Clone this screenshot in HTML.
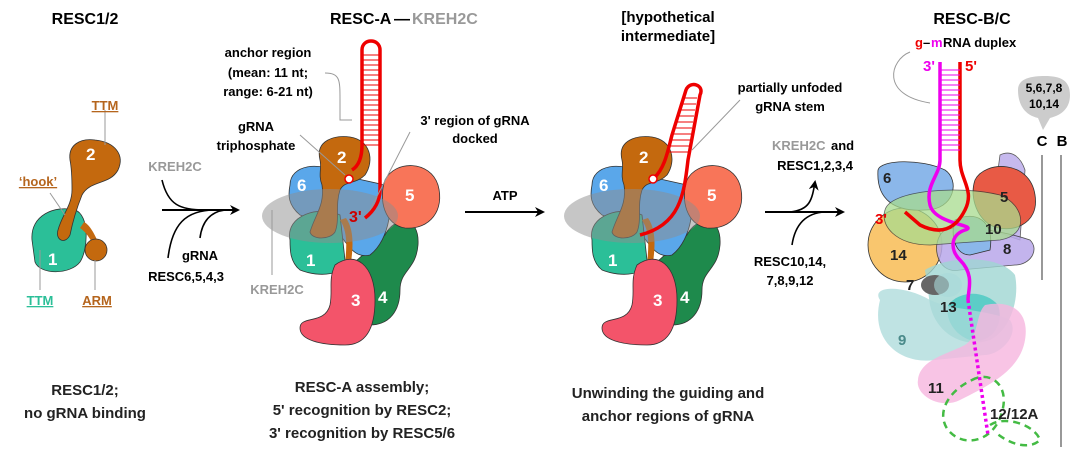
<!DOCTYPE html>
<html><head><meta charset="utf-8"><style>
html,body{margin:0;padding:0;background:#fff}
svg{display:block}
text{font-family:"Liberation Sans",Arial,sans-serif;font-weight:bold}
.o{stroke:#333;stroke-width:0.8}
</style></head><body>
<svg width="1080" height="461" viewBox="0 0 1080 461" xmlns="http://www.w3.org/2000/svg">
<defs>
<marker id="ah" markerWidth="10" markerHeight="10" refX="8" refY="5" orient="auto" markerUnits="userSpaceOnUse"><path d="M0,0 L10,5 L0,10 L3,5 z" fill="#000"/></marker>
<g id="rescA">
  <path class="o" d="M385,235 C395,215 420,215 418,245 C416,270 400,270 400,290 C400,310 390,325 370,325 C345,325 330,300 335,280 Z" fill="#1e8a4c"/>
  <path class="o" d="M290,185 C290,165 320,160 340,175 L385,185 C395,200 390,240 370,255 C350,260 345,235 330,225 L300,215 C288,205 288,195 290,185 Z" fill="#5aa7ea"/>
  <path class="o" d="M385,180 C395,160 430,160 438,185 C445,210 430,230 405,228 C385,225 378,200 385,180 Z" fill="#f87559"/>
  <path class="o" d="M290,240 C285,215 320,205 340,215 L345,260 C345,275 320,278 300,270 C290,262 290,250 290,240 Z" fill="#2bbf98"/>
  <path d="M340,220 C350,235 345,255 345,270 L350,270 C352,255 356,232 346,218 Z" fill="#c4690e"/>
  <path class="o" d="M320,160 C315,140 335,135 350,137 C370,140 375,160 365,175 C355,185 345,180 340,190 C335,205 340,220 335,232 C330,240 312,240 310,232 C315,215 325,205 322,185 C318,175 322,168 320,160 Z" fill="#c4690e"/>
  <ellipse cx="330" cy="216" rx="68" ry="27" fill="#8e8e8e" opacity="0.5"/>
  <path class="o" d="M335,265 C355,250 375,265 375,300 C375,330 365,345 345,345 C320,345 300,340 300,328 C300,315 325,325 330,305 C333,290 328,280 335,265 Z" fill="#f3546a"/>
  <text x="297" y="191" fill="#fff" font-size="17">6</text>
  <text x="337" y="163" fill="#fff" font-size="17">2</text>
  <text x="405" y="201" fill="#fff" font-size="17">5</text>
  <text x="306" y="266" fill="#fff" font-size="17">1</text>
  <text x="351" y="306" fill="#fff" font-size="17">3</text>
  <text x="378" y="303" fill="#fff" font-size="17">4</text>
</g>
</defs>

<!-- Panel 1 -->
<text x="85" y="24" text-anchor="middle" font-size="16">RESC1/2</text>
<path class="o" d="M32,240 C30,215 55,205 75,210 C90,215 88,250 80,262 C70,275 40,275 35,262 Z" fill="#2bbf98"/>
<path d="M80,228 C90,235 92,245 95,245 L98,242 C95,235 90,225 84,222 Z" fill="#c4690e"/>
<circle class="o" cx="96" cy="250" r="11" fill="#c4690e"/>
<path class="o" d="M70,160 C68,145 80,138 95,140 C115,142 125,155 118,170 C110,185 90,180 82,195 C76,210 72,225 70,235 C65,245 55,240 58,230 C62,215 72,205 72,190 C72,180 72,170 70,160 Z" fill="#c4690e"/>
<text x="86" y="160" fill="#fff" font-size="17">2</text>
<text x="48" y="265" fill="#fff" font-size="17">1</text>
<g stroke="#999" stroke-width="1" fill="none"><path d="M105,110 V145"/><path d="M50,193 L65,215"/><path d="M40,250 V290"/><path d="M95,260 V290"/></g>
<text x="105" y="110" text-anchor="middle" font-size="13" fill="#b5651d" text-decoration="underline">TTM</text>
<text x="38" y="186" text-anchor="middle" font-size="13" fill="#b5651d" text-decoration="underline">‘hook’</text>
<text x="40" y="305" text-anchor="middle" font-size="13" fill="#2bbf98" text-decoration="underline">TTM</text>
<text x="97" y="305" text-anchor="middle" font-size="13" fill="#b5651d" text-decoration="underline">ARM</text>
<text x="85" y="395" text-anchor="middle" font-size="15" fill="#222">RESC1/2;</text>
<text x="85" y="418" text-anchor="middle" font-size="15" fill="#222">no gRNA binding</text>

<!-- Arrow 1 -->
<path d="M162,210 H238" stroke="#000" stroke-width="2" marker-end="url(#ah)" fill="none"/>
<path d="M162,180 C168,205 180,210 205,210" stroke="#000" stroke-width="1.6" fill="none"/>
<path d="M168,258 C172,225 185,210 215,210" stroke="#000" stroke-width="1.6" fill="none"/>
<path d="M200,238 C202,222 210,212 225,210" stroke="#000" stroke-width="1.6" fill="none"/>
<text x="175" y="171" text-anchor="middle" font-size="13" fill="#999">KREH2C</text>
<text x="200" y="260" text-anchor="middle" font-size="13">gRNA</text>
<text x="186" y="281" text-anchor="middle" font-size="13">RESC6,5,4,3</text>

<!-- Panel 2 -->
<text x="330" y="24" font-size="16">RESC-A</text>
<text x="394" y="24" font-size="16">—</text>
<text x="412" y="24" font-size="16" fill="#999">KREH2C</text>
<use href="#rescA"/>
<path d="M352,170 C360,165 362,155 362,145 V50 C362,38 380,38 380,50 V190 C380,200 375,210 365,218" stroke="#e00" stroke-width="3.5" fill="none"/>
<g stroke="#e00" stroke-width="1">
<path d="M362,55H380M362,60H380M362,65H380M362,70H380M362,75H380M362,80H380M362,85H380M362,90H380M362,95H380M362,100H380M362,105H380M362,110H380M362,115H380M362,120H380M362,125H380M362,130H380M362,135H380M362,140H380M362,145H380"/></g>
<circle cx="349" cy="179" r="4" fill="#fff" stroke="#e00" stroke-width="1.5"/>
<text x="349" y="222" font-size="16" fill="#c00">3'</text>
<g stroke="#999" stroke-width="1" fill="none"><path d="M325,73 C340,73 340,80 340,100 V120 H352"/><path d="M300,135 L345,175"/><path d="M410,132 L370,210"/><path d="M272,210 V275"/></g>
<text x="268" y="57" text-anchor="middle" font-size="13">anchor region</text>
<text x="268" y="77" text-anchor="middle" font-size="13">(mean: 11 nt;</text>
<text x="268" y="96" text-anchor="middle" font-size="13">range: 6-21 nt)</text>
<text x="256" y="131" text-anchor="middle" font-size="13">gRNA</text>
<text x="256" y="150" text-anchor="middle" font-size="13">triphosphate</text>
<text x="475" y="125" text-anchor="middle" font-size="13">3' region of gRNA</text>
<text x="475" y="143" text-anchor="middle" font-size="13">docked</text>
<text x="277" y="294" text-anchor="middle" font-size="13" fill="#999">KREH2C</text>
<text x="362" y="392" text-anchor="middle" font-size="15" fill="#222">RESC-A assembly;</text>
<text x="362" y="415" text-anchor="middle" font-size="15" fill="#222">5' recognition by RESC2;</text>
<text x="362" y="438" text-anchor="middle" font-size="15" fill="#222">3' recognition by RESC5/6</text>

<!-- ATP arrow -->
<path d="M465,212 H543" stroke="#000" stroke-width="2" marker-end="url(#ah)" fill="none"/>
<text x="505" y="200" text-anchor="middle" font-size="13">ATP</text>

<!-- Panel 3 -->
<text x="668" y="22" text-anchor="middle" font-size="15">[hypothetical</text>
<text x="668" y="41" text-anchor="middle" font-size="15">intermediate]</text>
<use href="#rescA" transform="translate(302,0)"/>
<path d="M654,178 C665,168 668,150 672,135 L686,90 C690,80 705,85 700,95 L688,160 C684,195 680,225 640,235" stroke="#e00" stroke-width="3.5" fill="none"/>
<g stroke="#e00" stroke-width="1"><path d="M683,98H697M681,104H696M679,110H695M677,116H694M675,122H693M673,128H692M671,134H691M670,140H690M669,146H689M668,152H688"/></g>
<circle cx="653" cy="179" r="4" fill="#fff" stroke="#e00" stroke-width="1.5"/>
<path d="M740,100 L692,150" stroke="#999" stroke-width="1"/>
<text x="790" y="92" text-anchor="middle" font-size="13">partially unfoded</text>
<text x="790" y="111" text-anchor="middle" font-size="13">gRNA stem</text>
<text x="668" y="398" text-anchor="middle" font-size="15" fill="#222">Unwinding the guiding and</text>
<text x="668" y="421" text-anchor="middle" font-size="15" fill="#222">anchor regions of gRNA</text>

<!-- Arrow 3 -->
<path d="M765,212 H843" stroke="#000" stroke-width="2" marker-end="url(#ah)" fill="none"/>
<path d="M790,212 C810,210 812,200 815,182" stroke="#000" stroke-width="1.6" fill="none" marker-end="url(#ah)"/>
<path d="M792,245 C795,225 805,213 825,212" stroke="#000" stroke-width="1.6" fill="none"/>
<text x="772" y="150" font-size="13" fill="#999">KREH2C</text>
<text x="831" y="150" font-size="13">and</text>
<text x="815" y="170" text-anchor="middle" font-size="13">RESC1,2,3,4</text>
<text x="790" y="266" text-anchor="middle" font-size="13">RESC10,14,</text>
<text x="790" y="285" text-anchor="middle" font-size="13">7,8,9,12</text>

<!-- Panel 4 -->
<text x="972" y="24" text-anchor="middle" font-size="16">RESC-B/C</text>
<text x="915" y="47" font-size="13" fill="#e00">g</text><text x="923" y="47" font-size="13">–</text><text x="931" y="47" font-size="13" fill="#e0e">m</text><text x="943" y="47" font-size="13">RNA duplex</text>
<path d="M910,52 C890,60 880,95 930,103" stroke="#999" stroke-width="1" fill="none"/>
<path class="o" d="M1000,155 C1010,150 1020,155 1025,170 L1020,240 L990,230 Z" fill="#b9a8ea" opacity="0.8"/>
<circle class="o" cx="905" cy="245" r="37" fill="#f9c66e"/>
<path class="o" d="M878,170 C880,160 920,158 945,170 C960,180 955,210 925,210 C895,212 876,200 878,170 Z" fill="#8bb7ea"/>
<path class="o" d="M975,180 C985,160 1030,160 1035,195 C1040,225 1010,235 990,225 C975,215 970,195 975,180 Z" fill="#e85a45"/>
<path class="o" d="M945,230 C960,225 1000,230 1030,240 C1040,250 1030,265 1015,265 L960,270 C935,275 930,240 945,230 Z" fill="#b9a8ea" opacity="0.85"/>
<path class="o" d="M955,220 C975,210 995,220 990,250 L970,255 C955,255 950,235 955,220 Z" fill="#8bb7ea"/>
<path class="o" d="M885,210 C890,190 960,185 1000,195 C1025,205 1030,235 1000,240 L930,245 C895,245 880,225 885,210 Z" fill="#a8dc8e" opacity="0.75"/>
<path d="M925,270 C950,255 1000,255 1015,275 C1020,300 1010,330 990,340 C960,350 935,330 930,305 Z" fill="#9fd6d2" opacity="0.8"/>
<path d="M948,305 C960,290 985,290 998,305 C1005,325 990,345 970,340 C955,335 945,320 948,305 Z" fill="#3fc7c0" opacity="0.75"/>
<path d="M880,300 C870,285 905,285 930,300 C950,310 990,310 1010,320 C1020,335 1000,355 985,355 L935,360 C900,365 870,340 880,300 Z" fill="#a9d9d9" opacity="0.75"/>
<path d="M985,305 C1010,300 1030,310 1025,340 C1020,370 990,385 960,400 C940,410 915,395 918,380 C920,360 945,355 965,345 C980,335 975,315 985,305 Z" fill="#f6b5de" opacity="0.8"/>
<ellipse cx="935" cy="285" rx="14" ry="10" fill="#666"/>
<ellipse cx="948" cy="285" rx="14" ry="12" fill="#a9d9d9" opacity="0.6"/>
<path d="M972,380 C990,370 1010,385 1002,412 C995,440 965,450 948,430 C935,412 950,390 972,380 Z M990,425 C1005,415 1035,425 1040,440 C1030,450 1010,445 995,432" stroke="#44bb44" stroke-width="2.5" stroke-dasharray="7,5" fill="none"/>
<path d="M940,62 V160 C940,175 925,185 930,205 C935,225 980,225 965,230 C950,235 950,250 960,260 C975,275 968,290 968,300" stroke="#e0e" stroke-width="3.5" fill="none"/>
<path d="M968,300 L988,435" stroke="#e0e" stroke-width="3.5" stroke-dasharray="3,3" fill="none"/>
<path d="M960,62 V160 C960,180 975,190 965,210 C955,230 940,235 920,225 L905,212" stroke="#e00" stroke-width="3.5" fill="none"/>
<g stroke="#e0e" stroke-width="1"><path d="M940,70H960M940,75H960M940,80H960M940,85H960M940,90H960M940,95H960M940,100H960M940,105H960M940,110H960M940,115H960M940,120H960M940,125H960M940,130H960M940,135H960M940,140H960M940,145H960M940,150H960"/></g>
<text x="923" y="71" font-size="15" fill="#e0e">3'</text>
<text x="965" y="71" font-size="15" fill="#e00">5'</text>
<text x="875" y="224" font-size="15" fill="#e00">3'</text>
<text x="883" y="183" font-size="15" fill="#222">6</text>
<text x="1000" y="202" font-size="15" fill="#222">5</text>
<text x="985" y="234" font-size="15" fill="#222">10</text>
<text x="1003" y="254" font-size="15" fill="#222">8</text>
<text x="890" y="260" font-size="15" fill="#222">14</text>
<text x="906" y="290" font-size="15" fill="#222">7</text>
<text x="940" y="312" font-size="15" fill="#222">13</text>
<text x="898" y="345" font-size="15" fill="#4a8a8a">9</text>
<text x="928" y="393" font-size="15" fill="#222">11</text>
<text x="990" y="419" font-size="15" fill="#222">12/12A</text>
<path d="M1018,90 C1018,78 1032,76 1045,76 C1060,76 1070,80 1070,95 C1070,108 1062,115 1050,118 L1043,130 L1038,118 C1025,115 1018,105 1018,90 Z" fill="#ccc"/>
<text x="1044" y="92" text-anchor="middle" font-size="12">5,6,7,8</text>
<text x="1044" y="108" text-anchor="middle" font-size="12">10,14</text>
<text x="1042" y="146" text-anchor="middle" font-size="15">C</text>
<text x="1062" y="146" text-anchor="middle" font-size="15">B</text>
<path d="M1042,155 V280 M1061,155 V447" stroke="#555" stroke-width="1.2"/>
</svg>
</body></html>
